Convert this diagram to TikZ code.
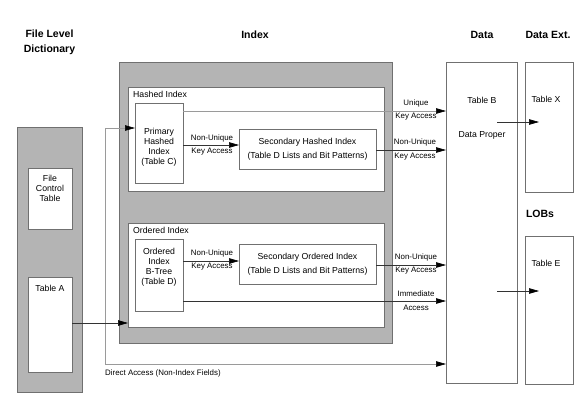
\documentclass[tikz,border=0pt]{standalone}
\usepackage{fontspec}
\setmainfont{Liberation Sans}
\usetikzlibrary{arrows.meta}
\definecolor{fillgray}{HTML}{B4B4B4}
\definecolor{edgegray}{HTML}{707070}
\definecolor{linegray}{HTML}{9A9A9A}
\begin{document}
\begin{tikzpicture}[x=1pt,y=-1pt,
  graybox/.style={draw=edgegray, fill=fillgray, line width=0.8pt, inner sep=0pt, outer sep=0pt},
  whitebox/.style={draw=edgegray, fill=white, line width=0.7pt, inner sep=0pt, outer sep=0pt},
  lbl/.style={font=\fontsize{8.7}{10}\selectfont, inner sep=0pt, align=center},
  elbl/.style={font=\fontsize{7.9}{9}\selectfont, inner sep=0pt, align=center},
  title/.style={font=\fontsize{10.5}{15}\selectfont\bfseries, inner sep=0pt, align=center},
  tip/.style={Triangle[length=10pt,width=5.5pt,fill=black,color=black]},
  arr/.style={draw=black!80, line width=0.6pt, -{Triangle[length=10pt,width=5.5pt,fill=black,color=black]}},
  darr/.style={draw=linegray, line width=0.6pt, {Triangle[length=10pt,width=5.5pt,fill=black,color=black]}-{Triangle[length=10pt,width=5.5pt,fill=black,color=black]}}
]
\useasboundingbox (0,0) rectangle (580,413);
\fill[white] (0,0) rectangle (580,413);

% titles
\node[title] (tFLD) at (49.5,42) {File Level\\Dictionary};
\node[title] (tIdx) at (255,35) {Index};
\node[title] (tData) at (482,35) {Data};
\node[title] (tExt) at (548,35) {Data Ext.};
\node[title] (tLOB) at (540,214) {LOBs};

% File level dictionary
\node[graybox, minimum width=65pt, minimum height=265pt] (fld) at (49.5,259.5) {};
\node[whitebox, minimum width=44pt, minimum height=61pt] (fct) at (50,198.5) {};
\node[lbl] (fctl) at (50,188) {File\\Control\\Table};
\node[whitebox, minimum width=44pt, minimum height=95pt] (ta) at (50,324.5) {};
\node[lbl] (tal) at (50,288) {Table A};

% Index
\node[graybox, minimum width=273pt, minimum height=281pt] (idx) at (255.5,202.5) {};
\node[whitebox, minimum width=256pt, minimum height=104pt] (hashed) at (256,139) {};
\node[lbl, anchor=west] (hashedl) at (133,94) {Hashed Index};
\node[whitebox, minimum width=48pt, minimum height=80pt] (phi) at (159,143) {};
\node[lbl] (phil) at (159,147) {Primary\\Hashed\\Index\\(Table C)};
\node[whitebox, minimum width=137pt, minimum height=40pt] (shi) at (307.5,149) {};
\node[lbl, align=center, font=\fontsize{8.7}{14}\selectfont] (shil) at (307.5,149) {Secondary Hashed Index\\(Table D Lists and Bit Patterns)};

\node[whitebox, minimum width=256pt, minimum height=104pt] (ordered) at (256,275) {};
\node[lbl, anchor=west] (orderedl) at (133,230) {Ordered Index};
\node[whitebox, minimum width=48pt, minimum height=72pt] (obt) at (159,275) {};
\node[lbl] (obtl) at (159,267) {Ordered\\Index\\B-Tree\\(Table D)};
\node[whitebox, minimum width=137pt, minimum height=40pt] (soi) at (307.5,264) {};
\node[lbl, align=center, font=\fontsize{8.7}{14}\selectfont] (soil) at (307.5,264) {Secondary Ordered Index\\(Table D Lists and Bit Patterns)};

% Data
\node[whitebox, minimum width=71pt, minimum height=321pt] (data) at (481.5,222.5) {};
\node[lbl] (tbl) at (482,100.5) {Table B};
\node[lbl] (dpl) at (482,135.5) {Data Proper};
\node[whitebox, minimum width=48pt, minimum height=130pt] (tx) at (549,127) {};
\node[lbl] (txl) at (546,99) {Table X};
\node[whitebox, minimum width=48pt, minimum height=148pt] (te) at (549,310) {};
\node[lbl] (tel) at (546,263) {Table E};

% level coordinates
\coordinate (yU) at (0,111);
\coordinate (yNH) at (0,150);
\coordinate (yIH) at (0,145);
\coordinate (yIO) at (0,261);
\coordinate (yNO) at (0,265);
\coordinate (yIm) at (0,301);
\coordinate (yD) at (0,364);
\coordinate (yP) at (0,128);
\coordinate (yA) at (0,323);
\coordinate (xV) at (105,0);
\coordinate (bx1) at (497,122);
\coordinate (bx2) at (539,122);
\coordinate (be1) at (497,291);
\coordinate (be2) at (539,291);

% connectors
\draw[arr, draw=linegray] (yU -| phi.east) -- (yU -| data.west);
\node[elbl] (uql1) at (416,103) {Unique};
\node[elbl] (uql2) at (416,117) {Key Access};

\draw[arr] (yIH -| phi.east) -- (yIH -| shi.west);
\node[elbl] (ih1) at (212,138) {Non-Unique};
\node[elbl] (ih2) at (212,152) {Key Access};

\draw[arr] (yNH -| shi.east) -- (yNH -| data.west);
\node[elbl] (nh1) at (415,142) {Non-Unique};
\node[elbl] (nh2) at (415,157) {Key Access};

\draw[arr] (yIO -| obt.east) -- (yIO -| soi.west);
\node[elbl] (io1) at (212,253) {Non-Unique};
\node[elbl] (io2) at (212,267) {Key Access};

\draw[arr] (yNO -| soi.east) -- (yNO -| data.west);
\node[elbl] (no1) at (416,257) {Non-Unique};
\node[elbl] (no2) at (416,271) {Key Access};

\draw[arr] (yIm -| obt.east) -- (yIm -| data.west);
\node[elbl] (im1) at (416,294) {Immediate};
\node[elbl] (im2) at (416,308) {Access};

\draw[darr] (yD -| data.west) -- (yD -| xV) -- (yP -| xV) -- (yP -| phi.west);
\node[elbl, anchor=west] (dal) at (105,373) {Direct Access (Non-Index Fields)};

\draw[arr] (yA -| ta.east) -- (yA -| ordered.west);

\draw[arr] (bx1) -- (bx2);
\draw[arr] (be1) -- (be2);
\end{tikzpicture}
\end{document}
